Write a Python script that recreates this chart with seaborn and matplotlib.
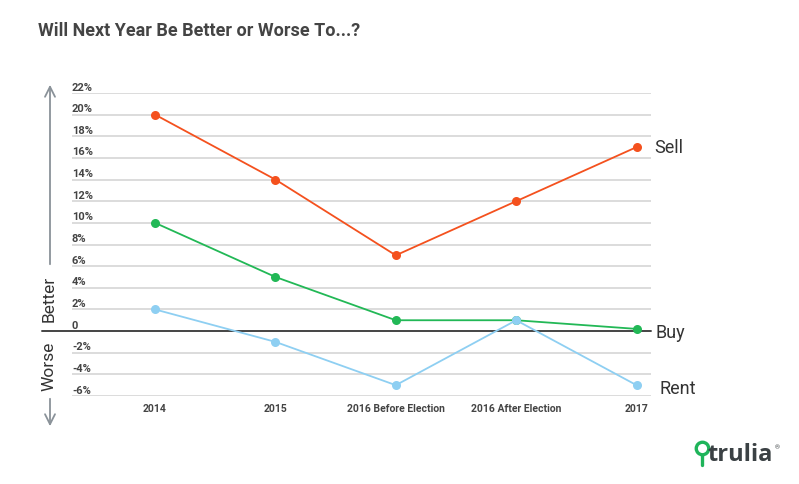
import pandas as pd
import numpy as np
import matplotlib.pyplot as plt
import seaborn as sns

# Data
periods = ['2014', '2015', '2016 Before Election', '2016 After Election', '2017']
sell = [20, 14, 7, 12, 17]
buy = [10, 5, 1, 1, 0.2]
rent = [2, -1, -5, 1, -5]
y_ticks = [22, 20, 18, 16, 14, 12, 10, 8, 6, 4, 2, 0, -2, -4, -6]
y_labels = ['22%', '20%', '18%', '16%', '14%', '12%', '10%', '8%', '6%', '4%', '2%', '0',
            '-2%', '-4%', '-6%']

colors = {'Sell': '#f4511e', 'Buy': '#22b856', 'Rent': '#8ecff2'}

df = pd.DataFrame({
    'period': periods * 3,
    'value': sell + buy + rent,
    'series': ['Sell'] * 5 + ['Buy'] * 5 + ['Rent'] * 5,
})

sns.set_theme(style='white')
plt.rcParams['font.family'] = ['Roboto', 'DejaVu Sans']

W, H = 799, 485
fig = plt.figure(figsize=(W / 100, H / 100), dpi=100)

# axes placed in pixel terms: x 72..651, y(22%)=94, y(-6%)=397
ax = fig.add_axes([72 / W, (H - 397) / H, (651 - 72) / W, (397 - 94) / H])

for v in y_ticks:
    if v != 0:
        ax.axhline(v, color='#d9d9d9', lw=1.3, zorder=0)
ax.axhline(0, xmin=-0.052, xmax=1.0, color='#444444', lw=1.4, zorder=1, clip_on=False)

sns.lineplot(data=df, x='period', y='value', hue='series', palette=colors,
             marker='o', markersize=6.5, markeredgewidth=0, lw=1.3,
             legend=False, ax=ax, zorder=3, sort=False)

ax.set_xlim(-0.69, 4.12)
ax.set_ylim(-6, 22)
for s in ax.spines.values():
    s.set_visible(False)
ax.set_xlabel('')
ax.set_ylabel('')
ax.set_yticks([])
ax.set_xticks(range(len(periods)))
ax.set_xticklabels(periods, fontsize=7.5, fontweight='bold', color='#444444')
ax.tick_params(axis='x', length=0, pad=5)

# y labels sit just above each gridline, inside the plot
tr = ax.get_yaxis_transform()
for v, lab in zip(y_ticks, y_labels):
    ax.text(0.0, v + 0.6, lab, transform=tr, ha='left', va='center',
            fontsize=8, fontweight='bold', color='#444444', clip_on=False)

# end labels
for name, vals, dy, x in [('Sell', sell, 0, 4.15), ('Buy', buy, -0.3, 4.16),
                          ('Rent', rent, -0.3, 4.19)]:
    ax.text(x, vals[-1] + dy, name, fontsize=13, color='#333333',
            ha='left', va='center', clip_on=False)


def fx(x):
    return x / W


def fy(y):
    return 1 - y / H


# Better / Worse arrows on the left
arrow_kw = dict(arrowstyle='->', color='#8a9299', lw=1.3, mutation_scale=18)
fig.add_artist(plt.Annotation('', xy=(fx(50), fy(83)), xytext=(fx(50), fy(268)),
                              xycoords='figure fraction', textcoords='figure fraction',
                              arrowprops=arrow_kw))
fig.add_artist(plt.Annotation('', xy=(fx(50), fy(430)), xytext=(fx(50), fy(397)),
                              xycoords='figure fraction', textcoords='figure fraction',
                              arrowprops=arrow_kw))
fig.text(fx(49), fy(299), 'Better', rotation=90, ha='center', va='center',
         fontsize=12.5, color='#333333')
fig.text(fx(49), fy(366), 'Worse', rotation=90, ha='center', va='center',
         fontsize=12.5, color='#333333')

fig.text(fx(38), fy(31), 'Will Next Year Be Better or Worse To...?', ha='left', va='center',
         fontsize=13, fontweight='bold', color='#444444')

# trulia mark
fig.text(fx(708), fy(455), 'trulia', ha='left', va='center', fontsize=17,
         fontweight='bold', color='#3b4144', family=['Open Sans', 'DejaVu Sans'])
fig.text(fx(775), fy(448), '®', ha='left', va='center', fontsize=4.5, color='#3b4144')
fig.add_artist(plt.Line2D([fx(702), fx(702)], [fy(451), fy(466)], color='#1fb45a', lw=2.4))
fig.add_artist(plt.Line2D([fx(702)], [fy(449)], marker='o', markersize=9,
                          markerfacecolor='white', markeredgecolor='#1fb45a',
                          markeredgewidth=2.4, ls=''))

fig.savefig('out.png', dpi=100)
